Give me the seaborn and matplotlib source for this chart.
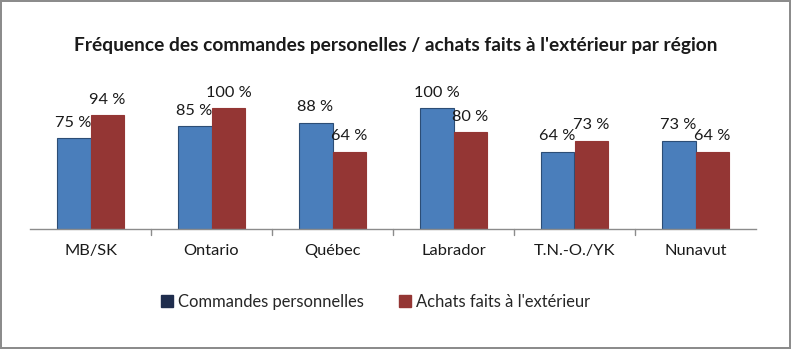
import matplotlib
matplotlib.use("Agg")
import matplotlib.pyplot as plt
import seaborn as sns
import pandas as pd

regions = ["MB/SK", "Ontario", "Québec", "Labrador", "T.N.-O./YK", "Nunavut"]
commandes = [75, 85, 88, 100, 64, 73]
achats = [94, 100, 64, 80, 73, 64]
series_names = ["Commandes personnelles", "Achats faits à l'extérieur"]
title = "Fréquence des commandes personelles / achats faits à l'extérieur par région"

df = pd.DataFrame({
    "region": regions * 2,
    "value": commandes + achats,
    "serie": [series_names[0]] * len(regions) + [series_names[1]] * len(regions),
})

sns.set_theme(style="white")
plt.rcParams['font.family'] = ['Lato', 'DejaVu Sans']

fig = plt.figure(figsize=(7.91, 3.49), dpi=100)
fig.patch.set_facecolor("white")
fig.patch.set_edgecolor("#8c8c8c")
fig.patch.set_linewidth(1.5)

ax = fig.add_axes([30/791, 1 - 229/349, 726/791, 151/349])
palette = {series_names[0]: "#4a7ebb", series_names[1]: "#943634"}
sns.barplot(data=df, x="region", y="value", hue="serie", palette=palette,
            width=0.56, ax=ax, edgecolor=None, linewidth=0, saturation=1, legend=False)

edge_cols = ["#2c4d75", "#943634"]
for i, cont in enumerate(ax.containers):
    for bar in cont:
        bar.set_edgecolor(edge_cols[i])
        bar.set_linewidth(0.8)
    ax.bar_label(cont, labels=[f"{v:.0f} %" for v in cont.datavalues], padding=6,
                 fontsize=11.8, color="#1a1a1a")

ax.set_ylim(0, 125)
ax.set_xlim(-0.5, 5.5)
ax.set_yticks([])
ax.set_xlabel("")
ax.set_ylabel("")
for s in ["top", "right", "left"]:
    ax.spines[s].set_visible(False)
ax.spines["bottom"].set_color("#8c8c8c")
ax.spines["bottom"].set_linewidth(1)
ax.set_xticks([x for x in range(6)])
ax.set_xticklabels(regions, fontsize=11.8, color="#1a1a1a")
ax.tick_params(axis="x", length=0, pad=11)
# boundary tick marks between categories
for b in [0.5, 1.5, 2.5, 3.5, 4.5]:
    ax.plot([b, b], [0, -5], color="#8c8c8c", lw=1, clip_on=False)

fig.text(0.5, 1 - 45/349, title, ha="center", va="center", fontsize=13.8,
         fontweight="bold", color="#1a1a1a")

from matplotlib.patches import Patch
handles = [Patch(facecolor="#1f2d4d", edgecolor="#1f2d4d"),
           Patch(facecolor="#943634", edgecolor="#943634")]
fig.legend(handles, series_names, loc="center", bbox_to_anchor=(0.475, 1 - 302/349),
           ncol=2, frameon=False, fontsize=11.9, handlelength=0.75, handleheight=0.75,
           handletextpad=0.3, columnspacing=2.1)

fig.savefig("out.png", dpi=100)
